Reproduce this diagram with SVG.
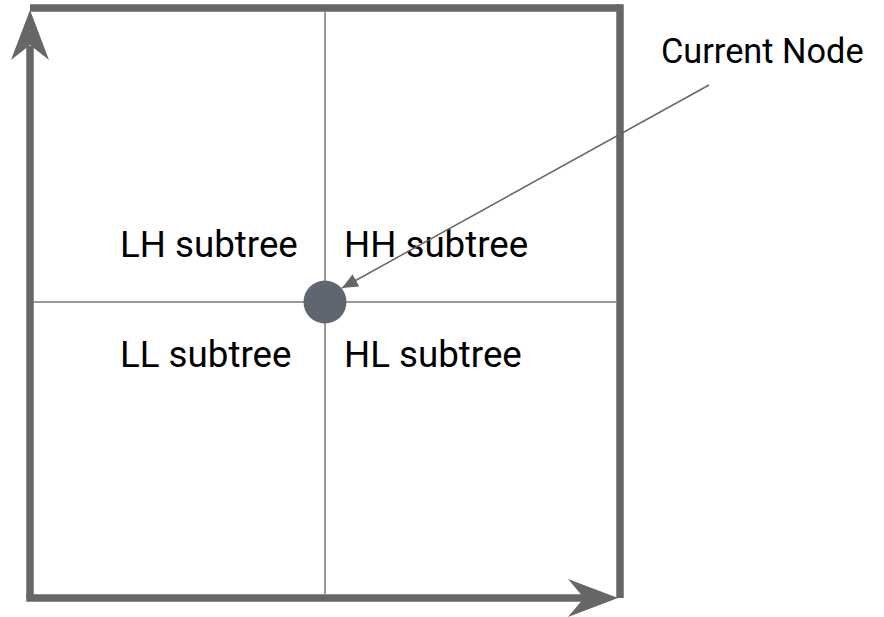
<svg xmlns="http://www.w3.org/2000/svg" width="884" height="617" viewBox="0 0 884 617">
  <style>
    .frame { stroke: #666666; stroke-width: 7.5; fill: none; stroke-linecap: butt; }
    .grid { stroke: #777777; stroke-width: 1.5; fill: none; }
    .ptr { stroke: #666666; stroke-width: 1.5; fill: none; }
    .lbl { font-family: Roboto, "Liberation Sans", sans-serif; font-size: 36.7px; fill: #000000; }
    .cur { font-size: 34.3px; }
  </style>
  <defs>
    <marker id="ptrHead" markerUnits="userSpaceOnUse" markerWidth="20" markerHeight="20" refX="16" refY="7" orient="auto">
      <path d="M0,0 L16,7 L0,14 Z" fill="#666666"/>
    </marker>
  </defs>
  <rect width="884" height="617" fill="#ffffff"/>
  <g id="frame">
    <line class="frame" x1="30" y1="8" x2="620" y2="8"/>
    <line class="frame" x1="620" y1="4.25" x2="620" y2="598"/>
    <line class="frame" x1="30" y1="598" x2="30" y2="46"/>
    <line class="frame" x1="26.25" y1="598" x2="585" y2="598"/>
    <path d="M30,10 L49,60 L30,45 L11,60 Z" fill="#666666"/>
    <path d="M618,598 L568,579 L584,598 L568,617 Z" fill="#666666"/>
  </g>
  <g id="grid">
    <line class="grid" x1="34" y1="302" x2="616" y2="302"/>
    <line class="grid" x1="325" y1="12" x2="325" y2="594"/>
  </g>
  <g id="labels">
    <text class="lbl" x="120" y="257">LH subtree</text>
    <text class="lbl" x="344" y="257">HH subtree</text>
    <text class="lbl" x="120" y="367">LL subtree</text>
    <text class="lbl" x="344" y="367">HL subtree</text>
  </g>
  <g id="current-node">
    <circle cx="325" cy="302" r="21.5" fill="#5f6670"/>
    <text class="lbl cur" x="661" y="63">Current Node</text>
  </g>
  <g id="connectors">
    <line class="ptr" x1="709" y1="85" x2="342" y2="288" marker-end="url(#ptrHead)"/>
  </g>
</svg>
